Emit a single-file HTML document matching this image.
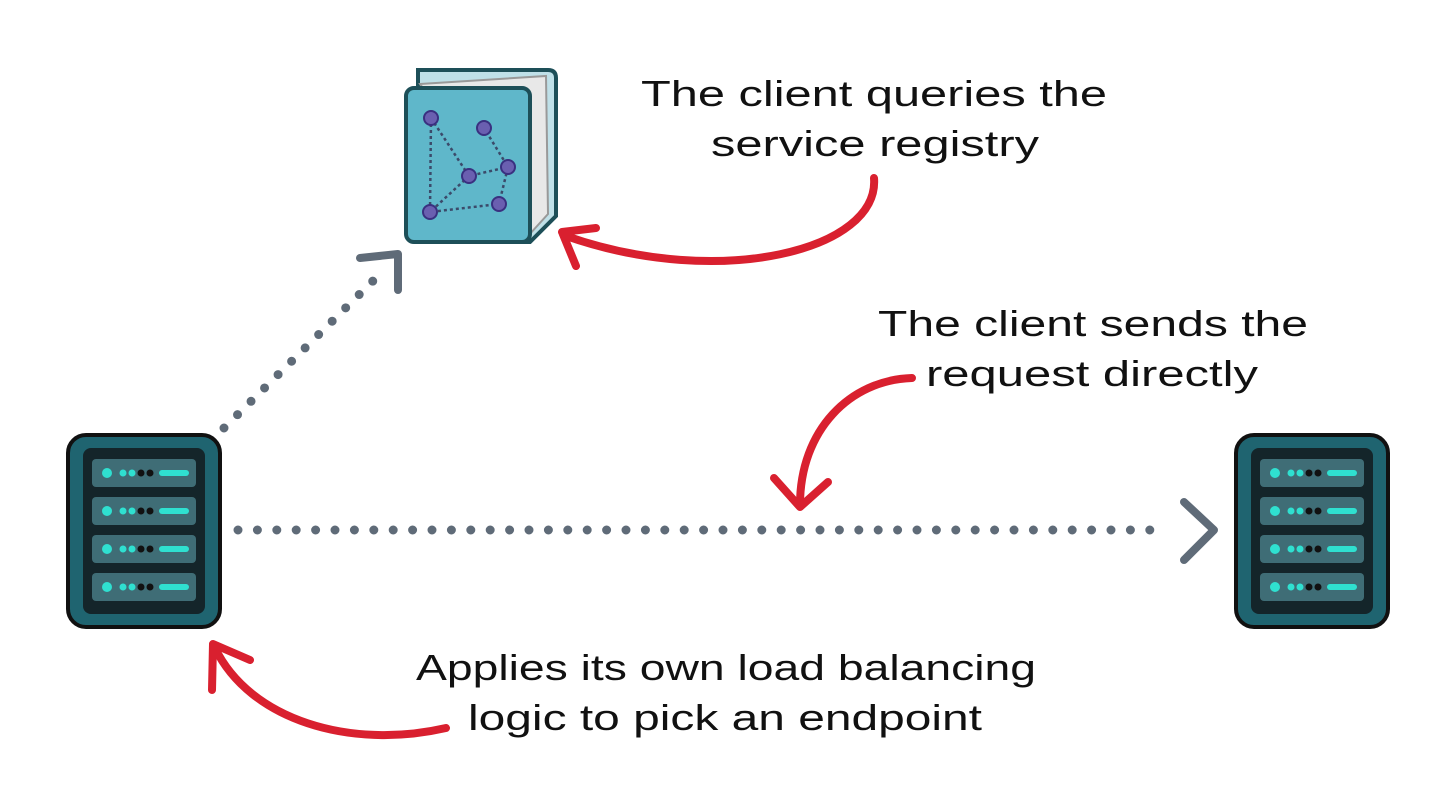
<!DOCTYPE html>
<html><head><meta charset="utf-8"><style>
html,body{margin:0;padding:0;background:#fff;}
svg{display:block}
text{font-family:"Liberation Sans",sans-serif;font-size:36px;fill:#111;}
</style></head><body>
<svg width="1456" height="812" viewBox="0 0 1456 812">
<defs>
<g id="srv">
<rect x="0" y="0" width="152" height="192" rx="18" fill="#1f6470" stroke="#111" stroke-width="4"/>
<rect x="15" y="13" width="122" height="166" rx="8" fill="#14252a"/>
<g id="row">
<rect x="24" y="24" width="104" height="28" rx="4" fill="#3f6d76"/>
<circle cx="39" cy="38" r="5" fill="#2fe0d0"/>
<circle cx="55" cy="38" r="3.5" fill="#2fe0d0"/><circle cx="64" cy="38" r="3.5" fill="#2fe0d0"/>
<circle cx="73" cy="38" r="3.5" fill="#111"/><circle cx="82" cy="38" r="3.5" fill="#111"/>
<rect x="91" y="35" width="30" height="6" rx="3" fill="#2fe0d0"/>
</g>
<use href="#row" y="38"/><use href="#row" y="76"/><use href="#row" y="114"/>
</g>
</defs>

<!-- book -->
<path d="M418 70 L548 70 Q556 70 556 78 L556 216 L530 242 L418 242 Z" fill="#bfe0e8" stroke="#1d4f58" stroke-width="4"/>
<path d="M420 84 L546 76 L548 214 L528 236 Z" fill="#e8e8e8" stroke="#999" stroke-width="2"/>
<rect x="406" y="88" width="124" height="154" rx="8" fill="#5fb7ca" stroke="#1d4f58" stroke-width="4"/>
<g stroke="#3b4a6a" stroke-width="2.5" stroke-dasharray="3 3" fill="none">
<path d="M431 118 L430 212 L499 204 L508 167 L484 128"/>
<path d="M431 118 L469 176 L508 167"/><path d="M469 176 L430 212"/>
</g>
<g fill="#6a5fb0" stroke="#3a3080" stroke-width="2">
<circle cx="431" cy="118" r="7"/><circle cx="484" cy="128" r="7"/><circle cx="508" cy="167" r="7"/>
<circle cx="469" cy="176" r="7"/><circle cx="499" cy="204" r="7"/><circle cx="430" cy="212" r="7"/>
</g>

<use href="#srv" x="68" y="435"/>
<use href="#srv" x="1236" y="435"/>

<!-- dotted connectors -->
<g stroke="#5f6b78" stroke-width="9" stroke-linecap="round" fill="none">
<path d="M224 428 L382 272" stroke-dasharray="0 19"/>
<path d="M238 530 L1168 530" stroke-dasharray="0 19.4"/>
<path d="M360 258 L398 254 L398 290" stroke-width="8" stroke-linejoin="round"/>
<path d="M1184 502 L1214 530 L1184 560" stroke-width="8" stroke-linejoin="round"/>
</g>

<!-- red arrows -->
<g stroke="#d9202f" stroke-width="8" stroke-linecap="round" stroke-linejoin="round" fill="none">
<path d="M874 178 C880 250 720 290 566 236"/>
<path d="M562 232 L596 228 M562 232 L576 266"/>
<path d="M912 378 C850 380 800 430 800 505"/>
<path d="M800 507 L774 478 M800 507 L828 482"/>
<path d="M446 728 C350 750 250 720 215 648"/>
<path d="M213 644 L212 690 M213 644 L250 660"/>
</g>

<text x="641" y="106" textLength="466" lengthAdjust="spacingAndGlyphs">The client queries the</text>
<text x="711" y="156" textLength="328" lengthAdjust="spacingAndGlyphs">service registry</text>
<text x="878" y="336" textLength="430" lengthAdjust="spacingAndGlyphs">The client sends the</text>
<text x="926" y="386" textLength="332" lengthAdjust="spacingAndGlyphs">request directly</text>
<text x="416" y="680" textLength="620" lengthAdjust="spacingAndGlyphs">Applies its own load balancing</text>
<text x="468" y="730" textLength="514" lengthAdjust="spacingAndGlyphs">logic to pick an endpoint</text>
</svg>
</body></html>
